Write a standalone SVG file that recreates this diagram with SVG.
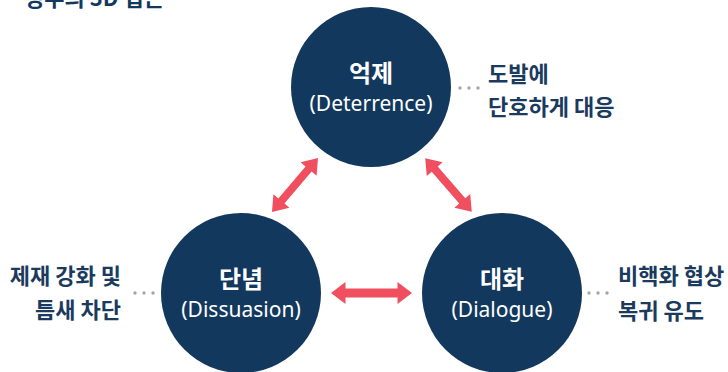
<svg xmlns="http://www.w3.org/2000/svg" width="728" height="372" viewBox="0 0 728 372">
  <defs>
    <style>
      .node { fill: #12385e; }
      .main { font-family: "Noto Sans CJK KR", "Noto Sans", sans-serif; font-weight: 700; font-size: 24px; fill: #ffffff; text-anchor: middle; }
      .sub { font-family: "Noto Sans", "Noto Sans CJK KR", sans-serif; font-weight: 400; font-size: 21px; fill: #ffffff; text-anchor: middle; }
      .side { font-family: "Noto Sans CJK KR", sans-serif; font-weight: 700; font-size: 22px; fill: #1a3a5e; }
      .title { font-family: "Noto Sans CJK KR", sans-serif; font-weight: 700; font-size: 22px; fill: #12385e; }
      .dot { fill: #a6a6a6; }
      .arrow { fill: #ef4f5f; }
    </style>
    <polygon id="dbl71" points="-35.5,0 -21,-10.5 -21,-4 21,-4 21,-10.5 35.5,0 21,10.5 21,4 -21,4 -21,10.5"/>
    <polygon id="dbl81" points="-40.5,0 -26,-11 -26,-4.5 26,-4.5 26,-11 40.5,0 26,11 26,4.5 -26,4.5 -26,11"/>
  </defs>

  <text class="title" x="164" y="6" text-anchor="end">정부의 3D 접근</text>

  <g id="connectors">
    <use href="#dbl71" class="arrow" transform="translate(295,185) rotate(-49.6)"/>
    <use href="#dbl71" class="arrow" transform="translate(448.5,185) rotate(49)"/>
    <use href="#dbl81" class="arrow" transform="translate(371.5,293)"/>
  </g>

  <g id="node-deterrence">
    <circle class="node" cx="371" cy="87" r="80"/>
    <text class="main" x="371" y="82">억제</text>
    <text class="sub" x="371" y="111">(Deterrence)</text>
  </g>

  <g id="node-dissuasion">
    <circle class="node" cx="241" cy="293" r="80"/>
    <text class="main" x="241" y="288">단념</text>
    <text class="sub" x="241" y="317">(Dissuasion)</text>
  </g>

  <g id="node-dialogue">
    <circle class="node" cx="502" cy="293" r="80"/>
    <text class="main" x="502" y="288">대화</text>
    <text class="sub" x="502" y="317">(Dialogue)</text>
  </g>

  <g id="note-deterrence">
    <circle class="dot" cx="460" cy="88" r="1.7"/>
    <circle class="dot" cx="469" cy="88" r="1.7"/>
    <circle class="dot" cx="478" cy="88" r="1.7"/>
    <text class="side" x="488" y="82">도발에</text>
    <text class="side" x="488" y="115">단호하게 대응</text>
  </g>

  <g id="note-dissuasion">
    <circle class="dot" cx="135" cy="293" r="1.7"/>
    <circle class="dot" cx="144" cy="293" r="1.7"/>
    <circle class="dot" cx="153" cy="293" r="1.7"/>
    <text class="side" x="121" y="284" text-anchor="end">제재 강화 및</text>
    <text class="side" x="121" y="318" text-anchor="end">틈새 차단</text>
  </g>

  <g id="note-dialogue">
    <circle class="dot" cx="589" cy="293" r="1.7"/>
    <circle class="dot" cx="598" cy="293" r="1.7"/>
    <circle class="dot" cx="607" cy="293" r="1.7"/>
    <text class="side" x="618" y="284">비핵화 협상</text>
    <text class="side" x="618" y="319">복귀 유도</text>
  </g>
</svg>
